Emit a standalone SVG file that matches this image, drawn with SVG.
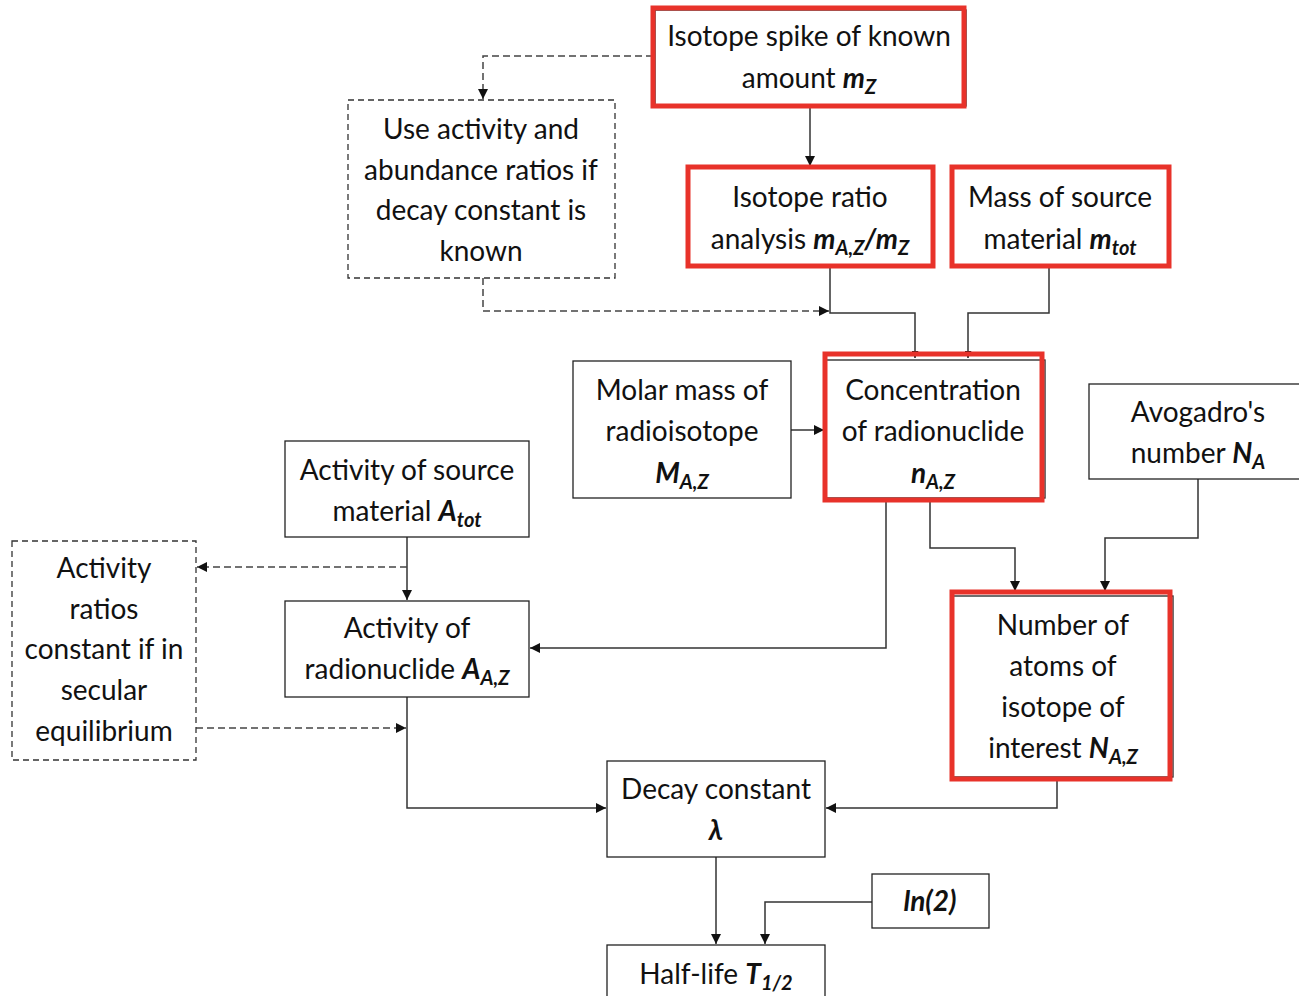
<svg xmlns="http://www.w3.org/2000/svg" width="1299" height="996" viewBox="0 0 1299 996">
<style>
text{font-family:Lato,"Liberation Sans",sans-serif;font-size:28px;fill:#111;text-anchor:middle}
.v{font-weight:bold;font-style:italic}
.s{font-weight:bold;font-style:italic;font-size:20px}
.box{fill:#fff;stroke:#222;stroke-width:1.3}
.dbox{fill:#fff;stroke:#333;stroke-width:1.3;stroke-dasharray:6 4}
.red{fill:none;stroke:#e8322a;stroke-width:5}
.c{fill:none;stroke:#333;stroke-width:1.5}
.d{fill:none;stroke:#444;stroke-width:1.5;stroke-dasharray:7 4}
</style>
<defs>
<marker id="a" viewBox="0 0 10 10" refX="10" refY="5" markerWidth="7" markerHeight="7" markerUnits="userSpaceOnUse" orient="auto"><path d="M0,0L10,5L0,10z" fill="#111"/></marker>
<marker id="a2" viewBox="0 0 10 10" refX="10" refY="5" markerWidth="10" markerHeight="10" markerUnits="userSpaceOnUse" orient="auto"><path d="M0,0L10,5L0,10z" fill="#111"/></marker>
</defs>
<g id="connectors">
<path class="d" d="M653,56H483V99" marker-end="url(#a2)"/>
<path class="c" d="M810,106V166" marker-end="url(#a2)"/>
<path class="d" d="M483,278V311H829" marker-end="url(#a2)"/>
<path class="c" d="M830,266V313H915V358" marker-end="url(#a)"/>
<path class="c" d="M1049,266V313H968V358" marker-end="url(#a)"/>
<path class="c" d="M791,430H824" marker-end="url(#a2)"/>
<path class="c" d="M930,500V548H1015V591" marker-end="url(#a2)"/>
<path class="c" d="M1198,479V538H1105V591" marker-end="url(#a2)"/>
<path class="c" d="M886,500V648H530" marker-end="url(#a2)"/>
<path class="c" d="M407,537V600" marker-end="url(#a2)"/>
<path class="d" d="M407,567H197" marker-end="url(#a2)"/>
<path class="d" d="M196,728H406" marker-end="url(#a2)"/>
<path class="c" d="M407,697V808H606" marker-end="url(#a2)"/>
<path class="c" d="M1057,779V808H826" marker-end="url(#a2)"/>
<path class="c" d="M716,857V944" marker-end="url(#a2)"/>
<path class="c" d="M872,902H765V944" marker-end="url(#a2)"/>
</g>
<g id="spike">
<rect class="box" x="655" y="10" width="311" height="96"/>
<rect class="red" x="653" y="8" width="311" height="98"/>
<text x="809" y="46">Isotope spike of known</text>
<text x="809" y="88">amount <tspan class="v">m</tspan><tspan class="s" dy="6">Z</tspan></text>
</g>
<g id="use-activity">
<rect class="dbox" x="348" y="100" width="267" height="178"/>
<text x="481" y="139">Use activity and</text>
<text x="481" y="180">abundance ratios if</text>
<text x="481" y="220">decay constant is</text>
<text x="481" y="261">known</text>
</g>
<g id="isotope-ratio">
<rect class="box" x="688" y="167" width="245" height="99"/>
<rect class="red" x="688" y="167" width="245" height="99"/>
<text x="810" y="207">Isotope ratio</text>
<text x="810" y="249">analysis <tspan class="v">m</tspan><tspan class="s" dy="6">A,Z</tspan><tspan class="v" dy="-6">/m</tspan><tspan class="s" dy="6">Z</tspan></text>
</g>
<g id="mass-source">
<rect class="box" x="952" y="167" width="217" height="99"/>
<rect class="red" x="952" y="167" width="217" height="99"/>
<text x="1060" y="207">Mass of source</text>
<text x="1060" y="249">material <tspan class="v">m</tspan><tspan class="s" dy="6">tot</tspan></text>
</g>
<g id="molar-mass">
<rect class="box" x="573" y="361" width="218" height="137"/>
<text x="682" y="400">Molar mass of</text>
<text x="682" y="441">radioisotope</text>
<text x="682" y="483"><tspan class="v">M</tspan><tspan class="s" dy="6">A,Z</tspan></text>
</g>
<g id="concentration">
<rect class="box" x="825" y="360" width="220" height="138"/>
<rect class="red" x="825" y="354" width="217" height="146"/>
<text x="933" y="400">Concentration</text>
<text x="933" y="441">of radionuclide</text>
<text x="933" y="483"><tspan class="v">n</tspan><tspan class="s" dy="6">A,Z</tspan></text>
</g>
<g id="avogadro">
<rect class="box" x="1089" y="384" width="220" height="95"/>
<text x="1198" y="422">Avogadro's</text>
<text x="1198" y="463">number <tspan class="v">N</tspan><tspan class="s" dy="6">A</tspan></text>
</g>
<g id="activity-source">
<rect class="box" x="285" y="441" width="244" height="96"/>
<text x="407" y="480">Activity of source</text>
<text x="407" y="521">material <tspan class="v">A</tspan><tspan class="s" dy="6">tot</tspan></text>
</g>
<g id="activity-ratios">
<rect class="dbox" x="12" y="541" width="184" height="219"/>
<text x="104" y="578">Activity</text>
<text x="104" y="619">ratios</text>
<text x="104" y="659">constant if in</text>
<text x="104" y="700">secular</text>
<text x="104" y="741">equilibrium</text>
</g>
<g id="activity-radionuclide">
<rect class="box" x="285" y="601" width="244" height="96"/>
<text x="407" y="638">Activity of</text>
<text x="407" y="679">radionuclide <tspan class="v">A</tspan><tspan class="s" dy="6">A,Z</tspan></text>
</g>
<g id="number-atoms">
<rect class="box" x="952" y="596" width="221" height="181"/>
<rect class="red" x="952" y="592" width="218" height="187"/>
<text x="1063" y="635">Number of</text>
<text x="1063" y="676">atoms of</text>
<text x="1063" y="717">isotope of</text>
<text x="1063" y="758">interest <tspan class="v">N</tspan><tspan class="s" dy="6">A,Z</tspan></text>
</g>
<g id="decay-constant">
<rect class="box" x="607" y="761" width="218" height="96"/>
<text x="716" y="799">Decay constant</text>
<text x="716" y="840" class="v">λ</text>
</g>
<g id="ln2">
<rect class="box" x="872" y="874" width="117" height="54"/>
<text x="930" y="911" class="v">ln(2)</text>
</g>
<g id="half-life">
<rect class="box" x="607" y="945" width="218" height="60"/>
<text x="716" y="984">Half-life <tspan class="v">T</tspan><tspan class="s" dy="6">1/2</tspan></text>
</g>
</svg>
